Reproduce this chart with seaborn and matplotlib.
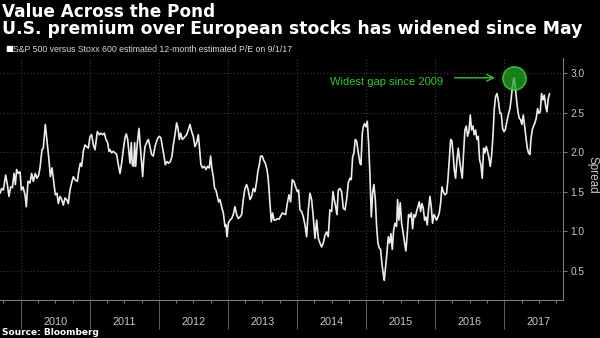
import numpy as np
import pandas as pd
import matplotlib
matplotlib.use("Agg")
import matplotlib.pyplot as plt
import seaborn as sns
from matplotlib.ticker import FixedLocator, FuncFormatter, MultipleLocator

# ---- data (decimal year, spread) ----
t_years = [
    2009.700, 2009.724, 2009.748, 2009.782, 2009.806, 2009.830, 2009.854, 2009.879, 2009.903, 2009.922,
    2009.941, 2009.965, 2009.990, 2010.009, 2010.033, 2010.062, 2010.081, 2010.105, 2010.134, 2010.158,
    2010.183, 2010.211, 2010.236, 2010.260, 2010.279, 2010.308, 2010.327, 2010.356, 2010.385, 2010.409,
    2010.429, 2010.453, 2010.477, 2010.501, 2010.525, 2010.544, 2010.569, 2010.593, 2010.617, 2010.641,
    2010.665, 2010.689, 2010.713, 2010.742, 2010.762, 2010.786, 2010.819, 2010.844, 2010.863, 2010.882,
    2010.906, 2010.930, 2010.955, 2010.979, 2011.003, 2011.027, 2011.051, 2011.075,
    2011.109, 2011.138, 2011.162, 2011.186, 2011.210, 2011.234, 2011.258, 2011.278, 2011.292, 2011.316,
    2011.340, 2011.365, 2011.389, 2011.413, 2011.437, 2011.461, 2011.485, 2011.509, 2011.529, 2011.548,
    2011.567, 2011.582, 2011.601, 2011.615, 2011.635, 2011.649, 2011.664, 2011.683, 2011.712, 2011.731,
    2011.751, 2011.765, 2011.780, 2011.799, 2011.823, 2011.847, 2011.871, 2011.895, 2011.919, 2011.944,
    2011.968, 2011.987, 2012.006, 2012.030, 2012.050, 2012.074, 2012.093, 2012.117, 2012.141, 2012.166,
    2012.190, 2012.209, 2012.233, 2012.257, 2012.277, 2012.296, 2012.315, 2012.339, 2012.363,
    2012.402, 2012.426, 2012.450, 2012.474, 2012.498, 2012.522, 2012.547, 2012.571, 2012.590, 2012.609,
    2012.633, 2012.658, 2012.682, 2012.706, 2012.730, 2012.749, 2012.769, 2012.788, 2012.807, 2012.826,
    2012.846, 2012.865, 2012.884, 2012.908, 2012.933, 2012.957, 2012.971, 2012.986, 2013.005, 2013.029,
    2013.053, 2013.077, 2013.101, 2013.126, 2013.150, 2013.174, 2013.198, 2013.222, 2013.246, 2013.270,
    2013.294, 2013.319, 2013.343, 2013.367, 2013.391, 2013.415, 2013.434, 2013.454, 2013.473, 2013.497,
    2013.516, 2013.540, 2013.565, 2013.584, 2013.608, 2013.627, 2013.647, 2013.666,
    2013.690, 2013.714, 2013.738, 2013.762, 2013.787, 2013.811, 2013.835, 2013.859, 2013.883, 2013.907,
    2013.931, 2013.955, 2013.980, 2014.004, 2014.023, 2014.042, 2014.066, 2014.091, 2014.115, 2014.139,
    2014.163, 2014.187, 2014.211, 2014.235, 2014.259, 2014.284, 2014.308, 2014.332, 2014.356, 2014.380,
    2014.404, 2014.428, 2014.452, 2014.476, 2014.501, 2014.520, 2014.539, 2014.559, 2014.578, 2014.597,
    2014.621, 2014.645, 2014.670, 2014.694, 2014.718, 2014.742, 2014.766, 2014.785, 2014.805, 2014.824,
    2014.843, 2014.863, 2014.887, 2014.911, 2014.925, 2014.945, 2014.959,
    2014.978, 2014.997, 2015.017, 2015.036, 2015.055, 2015.075, 2015.094, 2015.113, 2015.133, 2015.152,
    2015.171, 2015.190, 2015.210, 2015.229, 2015.248, 2015.263, 2015.282, 2015.301, 2015.321, 2015.340,
    2015.359, 2015.379, 2015.398, 2015.417, 2015.441, 2015.456, 2015.475, 2015.494, 2015.514, 2015.538,
    2015.557, 2015.576, 2015.596, 2015.615, 2015.634, 2015.654, 2015.673, 2015.692, 2015.712, 2015.731,
    2015.750, 2015.769, 2015.789, 2015.808, 2015.827, 2015.847, 2015.866, 2015.885, 2015.905, 2015.924,
    2015.943, 2015.962, 2015.982, 2016.001, 2016.020, 2016.040, 2016.059, 2016.078, 2016.098, 2016.117,
    2016.141, 2016.165, 2016.184, 2016.204, 2016.223, 2016.242, 2016.262,
    2016.276, 2016.295, 2016.315, 2016.334, 2016.353, 2016.372, 2016.392, 2016.411, 2016.430, 2016.450,
    2016.469, 2016.488, 2016.508, 2016.527, 2016.546, 2016.565, 2016.585, 2016.604, 2016.623, 2016.643,
    2016.662, 2016.681, 2016.701, 2016.720, 2016.739, 2016.758, 2016.778, 2016.797, 2016.816, 2016.836,
    2016.855, 2016.874, 2016.894, 2016.913, 2016.937, 2016.956, 2016.976, 2016.995, 2017.014, 2017.034,
    2017.058, 2017.082, 2017.101, 2017.120, 2017.140, 2017.159, 2017.178, 2017.198, 2017.217, 2017.236,
    2017.255, 2017.275, 2017.294, 2017.313, 2017.333, 2017.352, 2017.371, 2017.386, 2017.405, 2017.424,
    2017.444, 2017.463, 2017.482, 2017.501, 2017.521, 2017.540, 2017.559, 2017.579, 2017.598, 2017.617,
    2017.637, 2017.656,
]
spread = [
    1.48, 1.54, 1.52, 1.71, 1.59, 1.44, 1.56, 1.55, 1.73, 1.59,
    1.78, 1.73, 1.75, 1.52, 1.56, 1.46, 1.31, 1.63, 1.61, 1.73,
    1.63, 1.73, 1.67, 1.71, 1.80, 2.03, 2.05, 2.35, 2.11, 1.90,
    1.69, 1.80, 1.63, 1.46, 1.48, 1.35, 1.44, 1.40, 1.33, 1.42,
    1.40, 1.35, 1.52, 1.63, 1.69, 1.65, 1.63, 1.78, 1.86, 1.82,
    2.01, 2.09, 2.07, 2.05, 2.20, 2.22, 2.09, 2.03,
    2.26, 2.22, 2.24, 2.22, 2.24, 2.16, 2.12, 2.01, 2.03, 1.99,
    2.01, 1.99, 1.97, 1.84, 1.73, 1.86, 2.03, 2.18, 2.23, 2.16,
    1.99, 1.86, 2.12, 1.84, 1.82, 2.12, 1.82, 2.07, 2.30, 2.07,
    1.86, 1.69, 1.90, 2.07, 2.12, 2.16, 2.07, 1.97, 1.95, 2.07,
    2.14, 2.18, 2.20, 2.18, 2.07, 1.95, 1.84, 1.88, 1.86, 1.88,
    1.95, 2.09, 2.22, 2.37, 2.30, 2.16, 2.24, 2.16, 2.18,
    2.22, 2.28, 2.35, 2.26, 2.20, 2.07, 2.12, 2.22, 2.03, 1.84,
    1.80, 1.82, 1.78, 1.82, 1.80, 1.95, 1.78, 1.69, 1.54, 1.52,
    1.44, 1.37, 1.40, 1.31, 1.23, 1.06, 1.08, 0.93, 1.10, 1.14,
    1.16, 1.21, 1.31, 1.21, 1.16, 1.18, 1.21, 1.40, 1.54, 1.59,
    1.52, 1.40, 1.44, 1.54, 1.50, 1.63, 1.76, 1.84, 1.95, 1.95,
    1.90, 1.86, 1.78, 1.65, 1.35, 1.12, 1.23, 1.14,
    1.14, 1.16, 1.15, 1.19, 1.23, 1.22, 1.21, 1.35, 1.46, 1.37,
    1.65, 1.63, 1.56, 1.50, 1.52, 1.27, 1.25, 1.18, 1.08, 0.93,
    1.27, 1.48, 1.40, 1.18, 0.91, 1.14, 0.91, 0.85, 0.80, 0.85,
    0.95, 0.99, 0.93, 1.27, 1.25, 1.50, 1.40, 1.31, 1.21, 1.52,
    1.54, 1.50, 1.29, 1.27, 1.40, 1.61, 1.67, 1.65, 1.94, 1.99,
    2.16, 2.14, 1.99, 1.86, 1.84, 2.24, 2.32,
    2.36, 2.32, 2.39, 2.11, 1.73, 1.18, 1.48, 1.59, 1.40, 1.06,
    0.85, 0.79, 0.77, 0.59, 0.46, 0.38, 0.55, 0.72, 0.93, 0.85,
    0.97, 0.77, 1.01, 1.10, 1.06, 1.40, 1.14, 1.36, 1.10, 0.97,
    0.85, 0.75, 0.97, 1.21, 1.18, 1.23, 1.03, 1.21, 1.18, 1.25,
    1.31, 1.37, 1.25, 1.35, 1.29, 1.14, 1.18, 1.08, 1.29, 1.44,
    1.31, 1.10, 1.21, 1.18, 1.14, 1.18, 1.23, 1.35, 1.56, 1.50,
    1.46, 1.48, 1.65, 1.90, 2.16, 2.14, 1.95,
    1.78, 1.67, 1.90, 2.05, 1.90, 1.78, 1.67, 1.99, 2.28, 2.33,
    2.20, 2.26, 2.47, 2.28, 2.33, 2.22, 2.28, 2.16, 2.20, 1.90,
    1.84, 1.67, 2.05, 1.99, 2.07, 2.01, 1.93, 1.82, 1.95, 2.20,
    2.54, 2.70, 2.74, 2.66, 2.49, 2.49, 2.30, 2.26, 2.28, 2.37,
    2.47, 2.55, 2.68, 2.85, 2.94, 2.83, 2.66, 2.51, 2.43, 2.41,
    2.35, 2.47, 2.33, 2.20, 2.05, 1.99, 1.97, 2.16, 2.28, 2.33,
    2.37, 2.43, 2.55, 2.49, 2.51, 2.74, 2.66, 2.72, 2.59, 2.51,
    2.68, 2.74,
]
year_labels = ["2010", "2011", "2012", "2013", "2014", "2015", "2016", "2017"]
year_starts = [2010, 2011, 2012, 2013, 2014, 2015, 2016, 2017]
y_ticks = [0.5, 1.0, 1.5, 2.0, 2.5, 3.0]
peak_year, peak_value = 2017.140, 2.94

title = "Value Across the Pond"
subtitle = "U.S. premium over European stocks has widened since May"
series_label = "S&P 500 versus Stoxx 600 estimated 12-month estimated P/E on 9/1/17"
annotation = "Widest gap since 2009"
source = "Source: Bloomberg"

# ---- styling ----
sns.set_theme(style="dark")
plt.rcParams["font.family"] = ["Liberation Sans", "DejaVu Sans"]

BG = "black"
GREEN = "#2ecc2e"
GRID = "#3c3c3c"
AXC = "#7a7a7a"
TXT = "#c8c8c8"

fig = plt.figure(figsize=(6.0, 3.38), dpi=100, facecolor=BG)
ax = fig.add_axes([0.0, 0.1124, 0.9383, 0.716])
ax.set_facecolor(BG)

df = pd.DataFrame({"year": t_years, "spread": spread})
sns.lineplot(data=df, x="year", y="spread", ax=ax, color="#ececec", linewidth=1.2)

ax.set_xlim(2009.70, 2017.85)
ax.set_ylim(0.13, 3.19)

# x axis: year boundaries as long ticks, quarter minor ticks, labels mid-year
ax.xaxis.set_major_locator(FixedLocator(year_starts))
ax.xaxis.set_major_formatter(FuncFormatter(lambda v, p: ""))
ax.xaxis.set_minor_locator(MultipleLocator(0.25))
lab = dict(zip(year_starts, year_labels))
def minor_fmt(v, p):
    if abs((v % 1) - 0.5) < 1e-6:
        return lab.get(int(np.floor(v)), "")
    return ""
ax.xaxis.set_minor_formatter(FuncFormatter(minor_fmt))
ax.tick_params(axis="x", which="major", direction="out", length=21, width=0.8,
               color="#5a5a5a", bottom=True)
ax.tick_params(axis="x", which="minor", direction="out", length=2.5, width=0.7,
               color=AXC, bottom=True, pad=10, labelsize=7.8, labelcolor=TXT)

# y axis on the right
ax.yaxis.tick_right()
ax.yaxis.set_major_locator(FixedLocator(y_ticks))
ax.yaxis.set_major_formatter(FuncFormatter(lambda v, p: f"{v:.1f}"))
ax.tick_params(axis="y", which="major", direction="out", length=3, width=0.8,
               color=AXC, right=True, left=False, pad=2.5, labelsize=7.3, labelcolor=TXT)
ax.set_ylabel("Spread", rotation=270, color=TXT, fontsize=8.5, va="center", ha="center")
ax.yaxis.set_label_coords(1.053, 0.517)
ax.set_xlabel("")

ax.grid(True, which="major", axis="both", color=GRID, linestyle=(0, (1, 2)), linewidth=0.8)
for side in ["left", "top"]:
    ax.spines[side].set_visible(False)
for side in ["bottom", "right"]:
    ax.spines[side].set_visible(True)
    ax.spines[side].set_color(AXC)
    ax.spines[side].set_linewidth(0.8)

# annotation
ax.scatter([peak_year], [peak_value], s=280, facecolor="#22a822", edgecolor="#3be03b",
           linewidth=1.2, alpha=0.75, zorder=5)
ax.annotate("", xy=(2016.905, 2.94), xytext=(2016.24, 2.94),
            arrowprops=dict(arrowstyle="->", color=GREEN, lw=1.0))
ax.text(2016.11, 2.89, annotation, ha="right", va="center", color=GREEN, fontsize=8)

# titles
fig.text(0.004, 1 - 17 / 338, title, color="white", fontsize=12.2, fontweight="bold",
         family=["DejaVu Sans"], va="baseline", ha="left")
fig.text(0.004, 1 - 33.5 / 338, subtitle, color="white", fontsize=12.4, fontweight="bold",
         family=["DejaVu Sans"], va="baseline", ha="left")
fig.text(0.009, 1 - 51.5 / 338, "\u25a0", color="white", fontsize=6,
         family=["DejaVu Sans"], va="baseline", ha="left")
fig.text(0.022, 1 - 51.5 / 338, series_label, color="#d8d8d8", fontsize=6.3,
         va="baseline", ha="left")
fig.text(0.004, 1 - 335 / 338, source, color="white", fontsize=6.5, fontweight="bold",
         family=["DejaVu Sans"], va="baseline", ha="left")

fig.savefig("out.png", dpi=100, facecolor=BG)
